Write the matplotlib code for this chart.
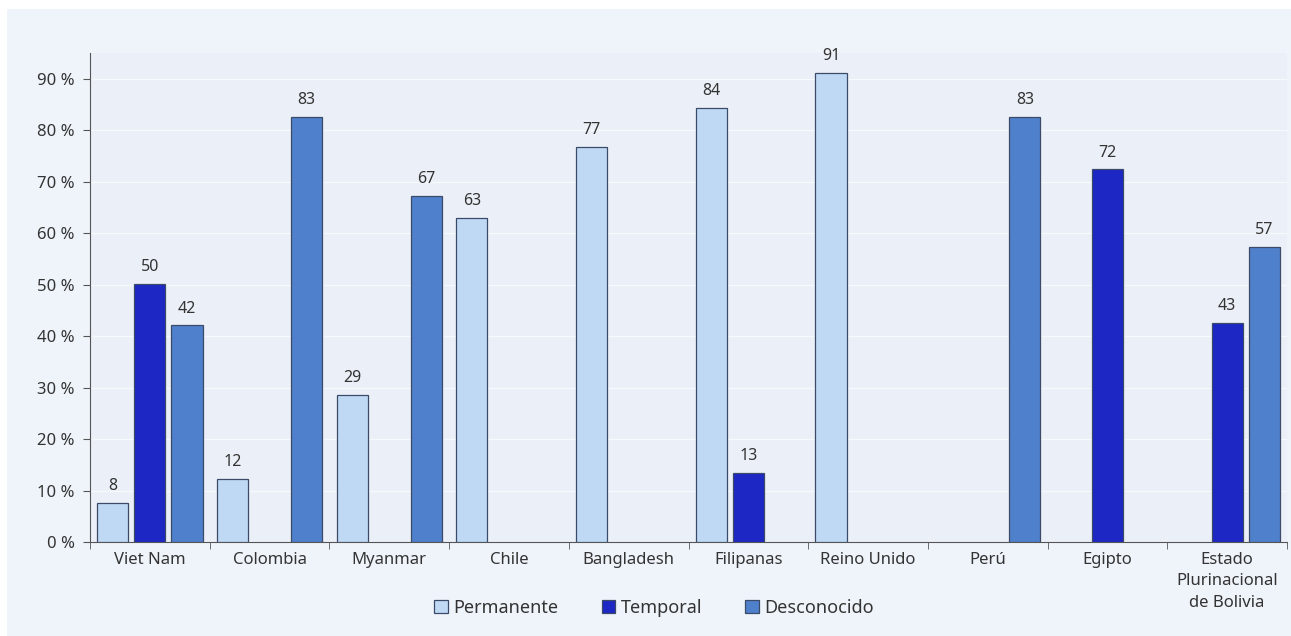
import matplotlib
matplotlib.use("Agg")
import matplotlib.pyplot as plt
import numpy as np
from matplotlib.patches import Rectangle

plt.rcParams['font.family'] = ['Noto Sans', 'DejaVu Sans']

categories = ["Viet Nam", "Colombia", "Myanmar", "Chile", "Bangladesh", "Filipanas",
              "Reino Unido", "Perú", "Egipto", "Estado\nPlurinacional\nde Bolivia"]
permanente = [7.6, 12.3, 28.6, 62.9, 76.8, 84.4, 91.2, None, None, None]
temporal = [50.2, None, None, None, None, 13.4, None, None, 72.4, 42.6]
desconocido = [42.1, 82.6, 67.2, None, None, None, None, 82.6, None, 57.4]
series_names = ["Permanente", "Temporal", "Desconocido"]
colors = ["#bfd9f5", "#1c27c4", "#4f80cc"]

W, H = 1291, 636
fig = plt.figure(figsize=(W/100, H/100), dpi=100)
fig.patch.set_facecolor("white")
fig.add_artist(Rectangle((7/W, -0.1), 2, 1.1 - 9/H, transform=fig.transFigure,
                         facecolor="#eff4fb", edgecolor="none", zorder=-10))

ax = fig.add_axes([90/W, 1 - 542/H, (1287-90)/W, (542-53)/H])
ax.set_facecolor("#ebf0f8")

x = np.arange(len(categories))
width = 0.26
offsets = [-0.31, 0, 0.31]
for vals, off, col, name in zip([permanente, temporal, desconocido], offsets, colors, series_names):
    xs = [xi + off for xi, v in zip(x, vals) if v is not None]
    hs = [v for v in vals if v is not None]
    bars = ax.bar(xs, hs, width=width, color=col, edgecolor="#3b4a66", linewidth=0.9,
                  label=name, zorder=3)
    for b, h in zip(bars, hs):
        ax.text(b.get_x() + b.get_width()/2, h + 1.7, f"{round(h)}", ha="center", va="bottom",
                fontsize=11.5, color="#333333", zorder=4)

ax.set_xlim(-0.5, len(categories) - 0.5)
ax.set_ylim(0, 95)
ax.set_yticks(np.arange(0, 91, 10))
ax.set_yticklabels([f"{v} %" for v in range(0, 91, 10)], fontsize=12, color="#333333")
ax.set_xticks(x)
ax.set_xticklabels(categories, fontsize=12, color="#333333", va="top", linespacing=1.45)
ax.tick_params(axis="x", length=0, pad=7)
ax.tick_params(axis="y", length=5, color="#555555", pad=6)
ax.set_xticks(np.arange(-0.5, len(categories) + 0.5, 1), minor=True)
ax.tick_params(axis="x", which="minor", length=5, color="#555555", direction="out")
ax.yaxis.grid(True, color="#f6f9fd", linewidth=0.9, zorder=0)
ax.set_axisbelow(True)
for s in ["top", "right"]:
    ax.spines[s].set_visible(False)
ax.spines["left"].set_color("#555555")
ax.spines["bottom"].set_color("#555555")

leg = fig.legend(loc="center", bbox_to_anchor=(654/W, 1 - 608/H), ncol=3, frameon=False,
                 fontsize=13, handlelength=0.75, handleheight=0.75, handletextpad=0.3,
                 columnspacing=2.4, labelcolor="#333333")

fig.savefig("out.png", dpi=100, facecolor=fig.get_facecolor())
